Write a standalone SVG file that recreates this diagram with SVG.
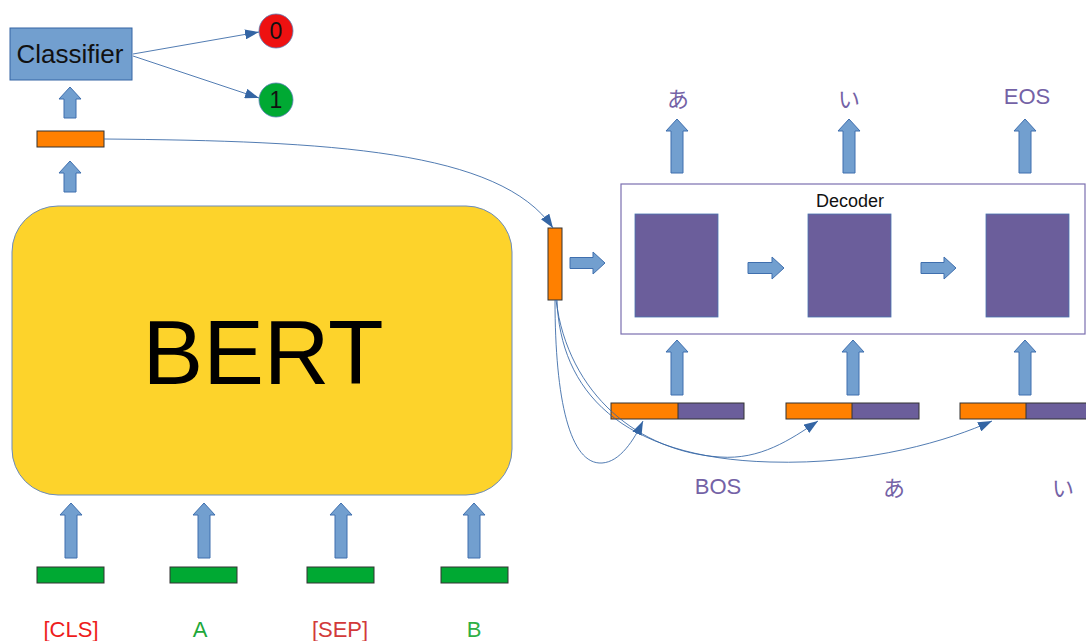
<svg xmlns="http://www.w3.org/2000/svg" width="1086" height="641" viewBox="0 0 1086 641">
  <style>
    .blk { fill: #729fcf; stroke: #3f6fae; stroke-width: 1; }
    .lnk { fill: none; stroke: #3465a4; stroke-width: 1; stroke-opacity: 0.85; }
    .orange { fill: #ff8000; stroke: #333333; stroke-width: 1; }
    .green { fill: #00a933; stroke: #333333; stroke-width: 1; }
    .violet { fill: #6b5e9b; stroke: #4a74b0; stroke-width: 0.8; }
    .txt { font-family: "Liberation Sans", Arial, sans-serif; }
    .jp { font-family: "Liberation Sans", "Noto Sans CJK JP", sans-serif; fill: #7462a6; font-size: 22px; text-anchor: middle; }
    .tok { font-family: "Liberation Sans", Arial, sans-serif; font-size: 22px; text-anchor: middle; }
  </style>
  <defs>
    <marker id="tip" viewBox="0 0 14 10" refX="14" refY="5" markerWidth="14" markerHeight="10" markerUnits="userSpaceOnUse" orient="auto">
      <path d="M0,0 L14,5 L0,10 Z" fill="#3465a4"/>
    </marker>
  </defs>

  <rect width="1086" height="641" fill="#ffffff"/>

  <!-- classification head -->
  <g id="classifier">
    <rect x="10" y="28" width="122" height="52" fill="#729fcf" stroke="#3465a4" stroke-width="1"/>
    <text class="txt" x="70" y="63" font-size="26" text-anchor="middle" fill="#111">Classifier</text>
  </g>
  <g id="label0">
    <circle cx="276" cy="31" r="17" fill="#ee1111" stroke="#5b7fb8" stroke-width="0.8"/>
    <text class="txt" x="276" y="39" font-size="23" text-anchor="middle" fill="#111">0</text>
  </g>
  <g id="label1">
    <circle cx="276" cy="100" r="17" fill="#00a933" stroke="#5b7fb8" stroke-width="0.8"/>
    <text class="txt" x="276" y="108" font-size="23" text-anchor="middle" fill="#111">1</text>
  </g>
  <g id="cls-vector">
    <rect class="orange" x="37" y="131" width="67" height="16"/>
  </g>

  <!-- encoder -->
  <g id="bert">
    <rect x="12" y="206" width="500" height="289" rx="46" ry="46" fill="#fdd32b" stroke="#6a8bbd" stroke-width="1"/>
    <text class="txt" x="263" y="384" font-size="91" text-anchor="middle" fill="#000">BERT</text>
  </g>

  <g id="tokens">
    <rect class="green" x="37" y="567" width="67" height="16"/>
    <rect class="green" x="170" y="567" width="67" height="16"/>
    <rect class="green" x="307" y="567" width="67" height="16"/>
    <rect class="green" x="441" y="567" width="67" height="16"/>
    <text class="tok" x="71" y="637" fill="#ee1c1c">[CLS]</text>
    <text class="tok" x="200" y="637" fill="#1ea83a">A</text>
    <text class="tok" x="340" y="637" fill="#d23a3a">[SEP]</text>
    <text class="tok" x="474" y="637" fill="#2fb045">B</text>
  </g>

  <!-- decoder -->
  <g id="context">
    <rect class="orange" x="548" y="228" width="14" height="72"/>
  </g>
  <g id="decoder">
    <rect x="621" y="184" width="464" height="150" fill="none" stroke="#7b6fb0" stroke-width="1.2"/>
    <text class="txt" x="850" y="207" font-size="18" text-anchor="middle" fill="#111">Decoder</text>
    <rect class="violet" x="635" y="214" width="83" height="103"/>
    <rect class="violet" x="808" y="214" width="83" height="103"/>
    <rect class="violet" x="986" y="214" width="83" height="103"/>
  </g>

  <g id="outputs">
    <text class="jp" x="678" y="107">あ</text>
    <text class="jp" x="849" y="107">い</text>
    <text class="jp" x="1027" y="104">EOS</text>
  </g>

  <g id="decoder-inputs">
    <rect x="611" y="403" width="67" height="16" fill="#ff8000"/>
    <rect x="678" y="403" width="66" height="16" fill="#6b5e9b"/>
    <rect x="611" y="403" width="133" height="16" fill="none" stroke="#333" stroke-width="1"/>
    <line x1="678" y1="403" x2="678" y2="419" stroke="#333" stroke-width="1"/>
    <rect x="786" y="403" width="66" height="16" fill="#ff8000"/>
    <rect x="852" y="403" width="67" height="16" fill="#6b5e9b"/>
    <rect x="786" y="403" width="133" height="16" fill="none" stroke="#333" stroke-width="1"/>
    <line x1="852" y1="403" x2="852" y2="419" stroke="#333" stroke-width="1"/>
    <rect x="960" y="403" width="66" height="16" fill="#ff8000"/>
    <rect x="1026" y="403" width="62" height="16" fill="#6b5e9b"/>
    <rect x="960" y="403" width="130" height="16" fill="none" stroke="#333" stroke-width="1"/>
    <line x1="1026" y1="403" x2="1026" y2="419" stroke="#333" stroke-width="1"/>
    <text class="jp" x="718" y="494">BOS</text>
    <text class="jp" x="894" y="496">あ</text>
    <text class="jp" x="1063" y="496">い</text>
  </g>

  <!-- connectors -->
  <g id="connectors">
    <!-- block arrows -->
    <polygon class="blk" points="64,118 64,99 59,99 70,87 81,99 76,99 76,118"/>
    <polygon class="blk" points="64,192 64,173 59,173 70,161 81,173 76,173 76,192"/>

    <polygon class="blk" points="65,558 65,515 60,515 71,503 82,515 77,515 77,558"/>
    <polygon class="blk" points="198,558 198,515 193,515 204,503 215,515 210,515 210,558"/>
    <polygon class="blk" points="335,558 335,515 330,515 341,503 352,515 347,515 347,558"/>
    <polygon class="blk" points="468,558 468,515 463,515 474,503 485,515 480,515 480,558"/>

    <polygon class="blk" points="671,173 671,131 666,131 677,119 688,131 683,131 683,173"/>
    <polygon class="blk" points="843,173 843,131 838,131 849,119 860,131 855,131 855,173"/>
    <polygon class="blk" points="1019,173 1019,131 1014,131 1025,119 1036,131 1031,131 1031,173"/>

    <polygon class="blk" points="671,395 671,352 666,352 677,340 688,352 683,352 683,395"/>
    <polygon class="blk" points="847,395 847,352 842,352 853,340 864,352 859,352 859,395"/>
    <polygon class="blk" points="1019,395 1019,352 1014,352 1025,340 1036,352 1031,352 1031,395"/>

    <polygon class="blk" points="570,257.5 593,257.5 593,252 605,263 593,274 593,268.5 570,268.5"/>
    <polygon class="blk" points="748,262.5 772,262.5 772,257 784,268 772,279 772,273.5 748,273.5"/>
    <polygon class="blk" points="921,262.5 944,262.5 944,257 956,268 944,279 944,273.5 921,273.5"/>

    <!-- thin links -->
    <path class="lnk" d="M133,54 L259,32" marker-end="url(#tip)"/>
    <path class="lnk" d="M133,56 L259,98" marker-end="url(#tip)"/>
    <path class="lnk" d="M104,139 C330,141 500,150 553,228" marker-end="url(#tip)"/>
    <path class="lnk" d="M555,300 C555,400 570,465 602,463 C620,462 634,440 643,421" marker-end="url(#tip)"/>
    <path class="lnk" d="M556,300 C568,395 640,452 720,457 C760,460 790,440 818,421" marker-end="url(#tip)"/>
    <path class="lnk" d="M557,300 C560,390 620,458 770,462 C870,465 950,440 992,421" marker-end="url(#tip)"/>
  </g>
</svg>
